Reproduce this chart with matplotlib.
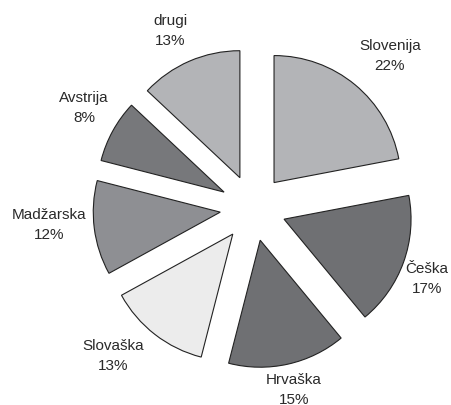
import matplotlib.pyplot as plt

# Data
countries = ["Slovenija", "Češka", "Hrvaška", "Slovaška", "Madžarska", "Avstrija", "drugi"]
shares = [22, 17, 15, 13, 12, 8, 13]
colors = ["#b3b4b7", "#6f7073", "#6f7073", "#ececec", "#8e8f93", "#77787b", "#b3b4b7"]

# label centres in pixel coords (x, y from top)
label_pos = [(390, 56), (427, 279), (294, 390), (113, 356), (49, 225), (84, 108), (170, 31)]

W, H = 452, 405
fig = plt.figure(figsize=(W / 100, H / 100), dpi=100)
ax = fig.add_axes([0, 0, 1, 1])

ax.pie(shares, colors=colors, startangle=90, counterclock=False,
       center=(253, H - 208), radius=127, explode=[33] * len(shares),
       wedgeprops=dict(edgecolor="#222222", linewidth=0.8), frame=True)
ax.set_xlim(0, W)
ax.set_ylim(0, H)
ax.set_aspect("equal")
ax.axis("off")

for name, v, (x, y) in zip(countries, shares, label_pos):
    ax.text(x, H - y, f"{name}\n{v}%", ha="center", va="center",
            fontsize=11, family="Liberation Sans", color="#2a2a2a",
            linespacing=1.5)

fig.savefig("out.png", dpi=100)
